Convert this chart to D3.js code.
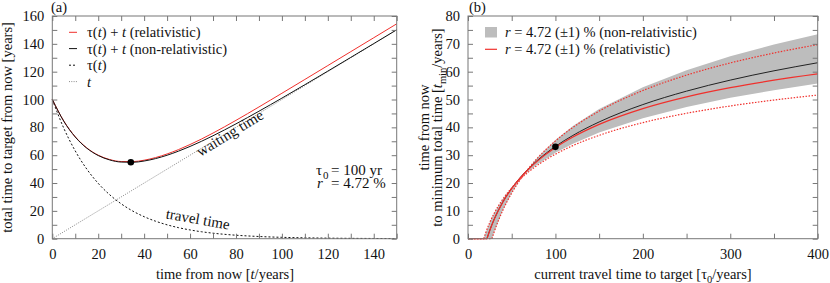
<!DOCTYPE html>
<html>
<head>
<meta charset="utf-8">
<script src="https://cdn.jsdelivr.net/npm/d3@7"></script>
<style>
  body { margin: 0; background: #fff; }
</style>
</head>
<body>
<svg id="fig" width="830" height="283"></svg>
<script>
// ---- panel (a): total time vs waiting time, tau0 = 100 yr, r = 4.72 %
var tYears      = [0, 5, 10, 15, 20, 25, 30, 35, 40, 45, 50, 55, 60, 65, 70, 75, 80, 85, 90, 95, 100, 110, 120, 130, 140, 150];
var travelTau   = [100, 79.41, 63.06, 50.07, 39.76, 31.58, 25.07, 19.91, 15.81, 12.56, 9.97, 7.92, 6.29, 4.99, 3.96, 3.15, 2.50, 1.99, 1.58, 1.25, 0.99, 0.63, 0.40, 0.25, 0.16, 0.10];
var totalNonRel = [100, 84.41, 73.06, 65.07, 59.76, 56.58, 55.07, 54.91, 55.81, 57.56, 59.97, 62.92, 66.29, 69.99, 73.96, 78.15, 82.50, 86.99, 91.58, 96.25, 100.99, 110.63, 120.40, 130.25, 140.16, 150.10];
var totalRel    = [100.10, 84.53, 73.21, 65.26, 60.00, 56.88, 55.45, 55.38, 56.40, 58.30, 60.89, 64.04, 67.66, 71.63, 75.90, 80.39, 85.03, 89.80, 94.65, 99.55, 104.48, 114.42, 124.39, 134.38, 144.37, 154.37];
var waitX = [0, 150], waitY = [0, 150];
var minPointA = [34.2, 54.9];

// ---- panel (b): time to minimum vs current travel time
var tau0Mid     = [21.68, 25, 30, 40, 50, 60, 70, 80, 100, 120, 150, 200, 250, 300, 350, 400];
var tminMid     = [0, 3.09, 7.04, 13.28, 18.12, 22.07, 25.41, 28.31, 33.15, 37.10, 41.94, 48.18, 53.01, 56.97, 60.31, 63.21];
var tau0RelMid  = [21.70, 25, 30, 40, 50, 60, 70, 80, 100, 120, 150, 200, 250, 300, 350, 400];
var tminRelMid  = [0, 3.06, 7.00, 13.21, 18.01, 21.91, 25.20, 28.04, 32.73, 36.51, 41.06, 46.73, 50.95, 54.25, 56.94, 59.19];
var tau0RelLo   = [27.40, 30, 40, 50, 60, 70, 80, 100, 120, 150, 200, 250, 300, 350, 400];
var tminRelLo   = [0, 2.47, 10.32, 16.40, 21.36, 25.53, 29.14, 35.13, 39.98, 45.84, 53.22, 58.76, 63.14, 66.71, 69.72];
var tau0RelHi   = [17.99, 20, 25, 30, 40, 50, 60, 70, 80, 100, 120, 150, 200, 250, 300, 350, 400];
var tminRelHi   = [0, 1.90, 5.89, 9.16, 14.29, 18.26, 21.48, 24.19, 26.52, 30.36, 33.45, 37.13, 41.69, 45.06, 47.68, 49.81, 51.59];
var bandTau0    = [0, 17.98, 20, 25, 27.38, 30, 40, 50, 60, 61.3, 70, 80, 100, 120, 150, 200, 250, 300, 350, 400];
var bandLow     = [0, 0, 0, 0, 0, 2.50, 10.38, 16.49, 21.48, 22.06, 24.44, 26.84, 30.85, 34.13, 38.14, 43.31, 47.32, 50.60, 53.37, 55.77];
var bandHigh    = [0, 0, 1.92, 5.93, 7.56, 9.21, 14.38, 18.39, 21.67, 22.06, 25.70, 29.36, 35.47, 40.46, 46.57, 54.45, 60.55, 65.54, 69.77, 73.42];
var minPointB = [100, 33.0];

var FONT = "'Liberation Serif'";
var svg = d3.select("#fig");

function zip(xs, ys) { return xs.map(function (x, i) { return [x, ys[i]]; }); }

// plain text helper, Times-like face set inline on every label
function label(x, y, size) {
  return svg.append("text").attr("x", x).attr("y", y).attr("font-size", size)
    .style("font-family", FONT).style("fill", "#111");
}

function frame(x, y, xTicks, xLabelEvery, yTicks, yLabelEvery) {
  var g = svg.append("g");
  var x0 = x.range()[0], x1 = x.range()[1], y0 = y.range()[0], y1 = y.range()[1];
  var fmtX = function (d) { return d % xLabelEvery === 0 ? d : ""; };
  g.append("g").attr("transform", "translate(0," + y0 + ")")
    .call(d3.axisBottom(x).tickValues(xTicks).tickSizeInner(-5).tickSizeOuter(0).tickPadding(10).tickFormat(fmtX));
  g.append("g").attr("transform", "translate(0," + y1 + ")")
    .call(d3.axisTop(x).tickValues(xTicks).tickSizeInner(-5).tickSizeOuter(0).tickFormat(""));
  var fmtY = function (d) { return d % yLabelEvery === 0 ? d : ""; };
  g.append("g").attr("transform", "translate(" + x0 + ",0)")
    .call(d3.axisLeft(y).tickValues(yTicks).tickSizeInner(-5).tickSizeOuter(0).tickPadding(8).tickFormat(fmtY));
  g.append("g").attr("transform", "translate(" + x1 + ",0)")
    .call(d3.axisRight(y).tickValues(yTicks).tickSizeInner(-5).tickSizeOuter(0).tickFormat(""));
  g.selectAll(".domain").remove();
  g.selectAll(".tick line").attr("stroke", "#777");
  g.selectAll("g").attr("font-family", null);
  g.selectAll("text").attr("font-size", 14.5).style("font-family", FONT).style("fill", "#111");
  g.append("rect").attr("x", x0).attr("y", y1).attr("width", x1 - x0).attr("height", y0 - y1)
    .attr("fill", "none").attr("stroke", "#777");
  return g;
}

// ================= panel (a) =================
var xa = d3.scaleLinear().domain([0, 150]).range([52.3, 396.7]);
var ya = d3.scaleLinear().domain([0, 160]).range([238.7, 16]);

var lineA = d3.line().x(function (d) { return xa(d[0]); }).y(function (d) { return ya(d[1]); }).curve(d3.curveMonotoneX);

svg.append("path").datum(zip(waitX, waitY)).attr("d", lineA)
  .attr("fill", "none").attr("stroke", "#8a8a8a").attr("stroke-width", 1).attr("stroke-dasharray", "1,1.3");
svg.append("path").datum(zip(tYears, travelTau)).attr("d", lineA)
  .attr("fill", "none").attr("stroke", "#111").attr("stroke-width", 1).attr("stroke-dasharray", "2,2");
svg.append("path").datum(zip(tYears, totalRel)).attr("d", lineA)
  .attr("fill", "none").attr("stroke", "#f0302c").attr("stroke-width", 1);
svg.append("path").datum(zip(tYears, totalNonRel)).attr("d", lineA)
  .attr("fill", "none").attr("stroke", "#111").attr("stroke-width", 1);
svg.append("circle").attr("cx", xa(minPointA[0])).attr("cy", ya(minPointA[1])).attr("r", 3.3).attr("fill", "#000");

frame(xa, ya, d3.range(0, 151, 10), 20, d3.range(0, 161, 10), 20);

// annotations
label(0, 0, 15).attr("x", null).attr("y", null).attr("transform", "translate(232.5,137.5) rotate(-31.3)")
  .attr("text-anchor", "middle").text("waiting time");
label(0, 0, 15).attr("x", null).attr("y", null).attr("transform", "translate(197,224) rotate(10)")
  .attr("text-anchor", "middle").text("travel time");

label(316, 174.5, 15).text("\u03c4");
label(323, 178.5, 11).text("0");
label(331, 174.5, 15).text("= 100 yr");
label(317, 187.5, 15).attr("font-style", "italic").text("r");
label(331, 187.5, 15).text("= 4.72 %");

label(51, 12, 14.5).text("(a)");

// axis titles (a)
var xta = label(225, 279, 14.5).attr("text-anchor", "middle");
xta.append("tspan").text("time from now [");
xta.append("tspan").attr("font-style", "italic").text("t");
xta.append("tspan").text("/years]");
label(0, 0, 14.5).attr("x", null).attr("y", null).attr("transform", "translate(12,127.5) rotate(-90)")
  .attr("text-anchor", "middle").text("total time to target from now [years]");

// legend (a)
var legA = [
  { y: 32.3, stroke: "#f0302c", dash: null, post: " (relativistic)" },
  { y: 48.6, stroke: "#111", dash: null, post: " (non-relativistic)" },
  { y: 65.2, stroke: "#111", dash: "2,2", post: null },
  { y: 81.6, stroke: "#8a8a8a", dash: "1,1.3", post: null }
];
legA.forEach(function (d, i) {
  svg.append("line").attr("x1", 69).attr("x2", 77).attr("y1", d.y).attr("y2", d.y)
    .attr("stroke", d.stroke).attr("stroke-dasharray", d.dash);
  var t = label(87, d.y + 5, 14.5);
  if (i < 3) {
    t.append("tspan").text("\u03c4(");
    t.append("tspan").attr("font-style", "italic").text("t");
    t.append("tspan").text(")");
    if (i < 2) {
      t.append("tspan").text(" + ");
      t.append("tspan").attr("font-style", "italic").text("t");
      t.append("tspan").text(d.post);
    }
  } else {
    t.append("tspan").attr("font-style", "italic").text("t");
  }
});

// ================= panel (b) =================
var xb = d3.scaleLinear().domain([0, 400]).range([468, 817.7]);
var yb = d3.scaleLinear().domain([0, 80]).range([238.7, 16]);

var lineB = d3.line().x(function (d) { return xb(d[0]); }).y(function (d) { return yb(d[1]); }).curve(d3.curveMonotoneX);
var flatB = d3.line().x(function (d) { return xb(d[0]); }).y(function (d) { return yb(d[1]); });
var areaB = d3.area().x(function (d) { return xb(d[0]); })
  .y0(function (d) { return yb(d[1]); }).y1(function (d) { return yb(d[2]); });

var band = bandTau0.map(function (v, i) { return [v, bandLow[i], bandHigh[i]]; });
svg.append("path").datum(band).attr("d", areaB).attr("fill", "#bdbdbd");

svg.append("path").datum(zip(tau0Mid, tminMid)).attr("d", lineB)
  .attr("fill", "none").attr("stroke", "#222").attr("stroke-width", 1);

function relCurve(xs, ys, dash) {
  svg.append("path").datum([[0, 0], [xs[0], 0]]).attr("d", flatB)
    .attr("fill", "none").attr("stroke", "#f0302c").attr("stroke-width", 1.2).attr("stroke-dasharray", dash);
  svg.append("path").datum(zip(xs, ys)).attr("d", lineB)
    .attr("fill", "none").attr("stroke", "#f0302c").attr("stroke-width", 1.2).attr("stroke-dasharray", dash);
}
relCurve(tau0RelLo, tminRelLo, "1.5,1.5");
relCurve(tau0RelHi, tminRelHi, "1.5,1.5");
relCurve(tau0RelMid, tminRelMid, null);

svg.append("circle").attr("cx", xb(minPointB[0])).attr("cy", yb(minPointB[1])).attr("r", 3.3).attr("fill", "#000");

frame(xb, yb, d3.range(0, 401, 50), 100, d3.range(0, 81, 5), 10);

label(469, 12, 14.5).text("(b)");

// axis titles (b)
var xtb = label(643, 279, 14.5).attr("text-anchor", "middle");
xtb.append("tspan").text("current travel time to target [\u03c4");
xtb.append("tspan").attr("font-size", 10.5).attr("dy", 3.5).text("0");
xtb.append("tspan").attr("dy", -3.5).text("/years]");

label(0, 0, 14.5).attr("x", null).attr("y", null).attr("transform", "translate(429,127.5) rotate(-90)")
  .attr("text-anchor", "middle").text("time from now");
var ytb2 = label(0, 0, 14.5).attr("x", null).attr("y", null).attr("transform", "translate(442,127.5) rotate(-90)")
  .attr("text-anchor", "middle");
ytb2.append("tspan").text("to minimum total time [");
ytb2.append("tspan").attr("font-style", "italic").text("t");
ytb2.append("tspan").attr("font-size", 10.5).attr("dy", 3.5).text("min");
ytb2.append("tspan").attr("dy", -3.5).text("/years]");

// legend (b)
svg.append("rect").attr("x", 485).attr("y", 27).attr("width", 12).attr("height", 10.5).attr("fill", "#bdbdbd");
svg.append("line").attr("x1", 485).attr("x2", 497).attr("y1", 49.3).attr("y2", 49.3)
  .attr("stroke", "#f0302c").attr("stroke-width", 1.2);
[["(non-relativistic)", 32.3], ["(relativistic)", 49.3]].forEach(function (d) {
  var t = label(505, d[1] + 5, 14.5);
  t.append("tspan").attr("font-style", "italic").text("r");
  t.append("tspan").text(" = 4.72 (\u00b11) % " + d[0]);
});
</script>
</body>
</html>
